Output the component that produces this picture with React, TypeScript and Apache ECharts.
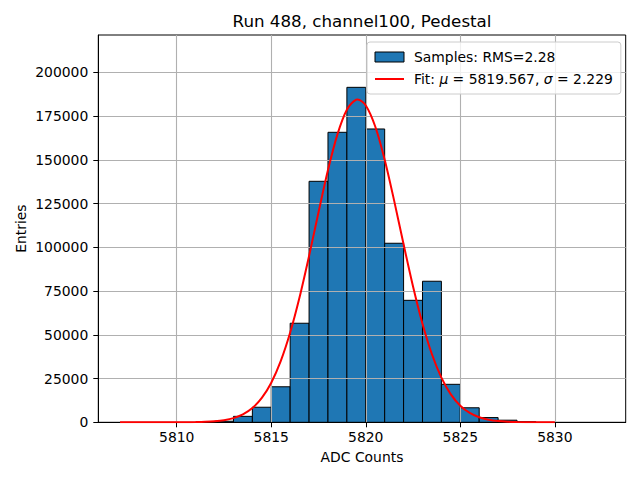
import React, { useEffect, useRef } from "react";
import * as echarts from "echarts";

const TITLE = "Run 488, channel100, Pedestal";
const X_NAME = "ADC Counts";
const Y_NAME = "Entries";

const BIN_WIDTH = 1;
const BIN_START = [5812, 5813, 5814, 5815, 5816, 5817, 5818, 5819, 5820, 5821, 5822, 5823, 5824, 5825, 5826, 5827, 5828];
const COUNTS = [600, 3400, 8600, 20300, 56600, 137700, 165700, 191400, 167600, 102300, 69700, 80600, 21700, 8300, 2700, 1200, 300];

const FIT_X = [
  5807, 5808, 5809, 5810, 5810.5, 5811, 5811.5, 5812, 5812.5, 5813, 5813.5, 5814, 5814.5, 5815, 5815.5,
  5816, 5816.5, 5817, 5817.5, 5818, 5818.5, 5819, 5819.5, 5819.567, 5820, 5820.5, 5821, 5821.5, 5822,
  5822.5, 5823, 5823.5, 5824, 5824.5, 5825, 5825.5, 5826, 5826.5, 5827, 5827.5, 5828, 5829, 5830,
];
const FIT_Y = [
  0, 0.3, 2.4, 18, 47, 114, 264, 580, 1210, 2404, 4541, 8155, 13926, 22614, 34919,
  51278, 71597, 95062, 120025, 144100, 164530, 178627, 184417, 184500, 181052, 169026, 150050, 126680, 101691,
  77630, 56350, 38895, 25531, 15943, 9460, 5341, 2867, 1463, 710, 328, 144, 24, 3,
];

const X_TICKS = [5810, 5815, 5820, 5825, 5830];
const Y_TICKS = [0, 25000, 50000, 75000, 100000, 125000, 150000, 175000, 200000];

const SAMPLES_NAME = "Samples: RMS=2.28";
const FIT_NAME = "Fit: μ = 5819.567, σ = 2.229";
const SAMPLES_RICH = "{p|}Samples: RMS=2.28";
const FIT_RICH = "{p|}Fit: {i|μ} = 5819.567, {i|σ} = 2.229";

const FONT = "DejaVu Sans";
const FS = 13.9;

export default function App() {
  const ref = useRef<HTMLDivElement>(null);
  useEffect(() => {
    document.body.style.margin = "0";
    const chart = echarts.init(ref.current!, null, { renderer: "svg" });
    const barData = BIN_START.map((b, i) => [b, COUNTS[i]]);
    const fitData = FIT_X.map((x, i) => [x, FIT_Y[i]]);
    chart.setOption({
      animation: false,
      backgroundColor: "#ffffff",
      textStyle: { fontFamily: FONT },
      title: {
        text: TITLE,
        left: 362,
        top: 12,
        textAlign: "center",
        padding: 0,
        textStyle: { fontFamily: FONT, fontSize: 16.7, fontWeight: "normal", color: "#000" },
      },
      grid: {
        left: 98.3,
        right: 14.3,
        top: 35,
        bottom: 57.7,
        show: true,
        borderColor: "#000",
        borderWidth: 1,
        backgroundColor: "transparent",
        containLabel: false,
      },
      legend: {
        orient: "vertical",
        left: 367,
        top: 42,
        padding: [7, 8, 7, 7],
        itemGap: 6,
        itemWidth: 29,
        itemHeight: 10,
        backgroundColor: "rgba(255,255,255,0.8)",
        borderColor: "#cccccc",
        borderWidth: 1,
        borderRadius: 3,
        selectedMode: false,
        data: [
          { name: SAMPLES_NAME, icon: "rect", itemStyle: { color: "#1f77b4", borderColor: "#000", borderWidth: 1 } },
          { name: FIT_NAME, itemStyle: { opacity: 0 }, lineStyle: { color: "#ff0000", width: 2 } },
        ],
        formatter: (name: string) => (name === FIT_NAME ? FIT_RICH : SAMPLES_RICH),
        textStyle: {
          fontFamily: FONT,
          fontSize: FS,
          color: "#000",
          lineHeight: 16,
          rich: {
            p: { width: 5, lineHeight: 16 },
            i: { fontFamily: FONT, fontSize: FS, fontStyle: "italic", color: "#000", lineHeight: 16 },
          },
        },
      },
      xAxis: {
        type: "value",
        min: 5805.85,
        max: 5833.75,
        z: 3,
        name: X_NAME,
        nameLocation: "middle",
        nameGap: 28,
        nameMoveOverlap: false,
        nameTextStyle: { fontFamily: FONT, fontSize: FS, color: "#000" },
        axisLine: { show: true, onZero: false, lineStyle: { color: "#000", width: 1 } },
        axisTick: { show: true, inside: false, length: 5, customValues: X_TICKS, lineStyle: { color: "#000", width: 1 } },
        axisLabel: {
          show: true,
          customValues: X_TICKS,
          margin: 8,
          fontFamily: FONT,
          fontSize: FS,
          color: "#000",
          formatter: (v: number) => String(v),
        },
        splitLine: { show: true, lineStyle: { color: "#b0b0b0", width: 1.1 } },
      },
      yAxis: {
        type: "value",
        min: 0,
        max: 221300,
        z: 3,
        name: Y_NAME,
        nameLocation: "middle",
        nameGap: 70,
        nameMoveOverlap: false,
        nameRotate: 90,
        nameTextStyle: { fontFamily: FONT, fontSize: FS, color: "#000" },
        axisLine: { show: true, lineStyle: { color: "#000", width: 1 } },
        axisTick: { show: true, inside: false, length: 5, customValues: Y_TICKS, lineStyle: { color: "#000", width: 1 } },
        axisLabel: {
          show: true,
          customValues: Y_TICKS,
          margin: 10,
          fontFamily: FONT,
          fontSize: FS,
          color: "#000",
          formatter: (v: number) => String(v),
        },
        splitLine: { show: true, lineStyle: { color: "#b0b0b0", width: 1.1 } },
      },
      series: [
        {
          name: SAMPLES_NAME,
          type: "custom",
          z: 2,
          itemStyle: { color: "#1f77b4" },
          encode: { x: 0, y: 1 },
          data: barData,
          renderItem: (params: any, api: any) => {
            const x0 = api.value(0);
            const y = api.value(1);
            const p0 = api.coord([x0, y]);
            const p1 = api.coord([x0 + BIN_WIDTH, 0]);
            return {
              type: "rect",
              shape: { x: p0[0], y: p0[1], width: p1[0] - p0[0], height: p1[1] - p0[1] },
              style: { fill: "#1f77b4", stroke: "#000", lineWidth: 1 },
            };
          },
        },
        {
          name: FIT_NAME,
          type: "line",
          z: 5,
          data: fitData,
          symbol: "none",
          showSymbol: false,
          smooth: 0.3,
          lineStyle: { color: "#ff0000", width: 2 },
          itemStyle: { color: "#ff0000" },
        },
      ],
    });
    return () => chart.dispose();
  }, []);
  return <div ref={ref} style={{ width: 640, height: 480 }} />;
}
